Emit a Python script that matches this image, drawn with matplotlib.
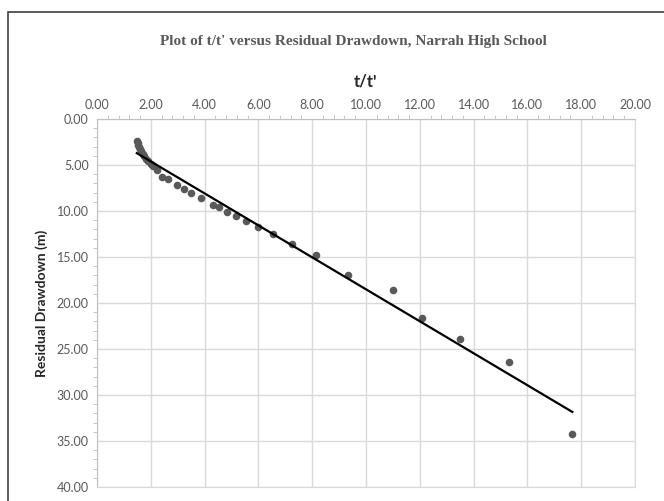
import numpy as np
import matplotlib

matplotlib.use("Agg")
import matplotlib.pyplot as plt  # noqa: E402
from matplotlib.patches import Rectangle  # noqa: E402
from matplotlib.ticker import MultipleLocator, FormatStrFormatter  # noqa: E402

# t/t' and residual drawdown (m)
T_RATIO = [1.48, 1.51, 1.54, 1.57, 1.61, 1.65, 1.70, 1.76, 1.83, 1.91, 2.00,
           2.10, 2.22, 2.43, 2.65, 2.99, 3.22, 3.49, 3.85, 4.32, 4.55, 4.84,
           5.16, 5.53, 6.00, 6.55, 7.26, 8.14, 9.34, 11.00, 12.10, 13.50,
           15.30, 17.67]
DRAWDOWN = [2.35, 2.60, 2.85, 3.05, 3.30, 3.50, 3.75, 4.00, 4.30, 4.60, 4.85,
            5.15, 5.50, 6.27, 6.56, 7.20, 7.60, 8.00, 8.55, 9.35, 9.60, 10.10,
            10.50, 11.10, 11.70, 12.50, 13.55, 14.80, 17.00, 18.60, 21.60,
            23.90, 26.40, 34.20]

TITLE = "Plot of t/t' versus Residual Drawdown, Narrah High School"
GREY = "#595959"
SANS = ["Lato", "DejaVu Sans"]

fig = plt.figure(figsize=(6.64, 5.01), dpi=100)
ax = fig.add_axes([97 / 664, 1 - 487 / 501, (635 - 97) / 664, (487 - 119) / 501])

x = np.array(T_RATIO)
y = np.array(DRAWDOWN)
ax.scatter(x, y, s=30, color=GREY, zorder=3, linewidths=0)

# linear trendline over the data range
slope, icpt = np.polyfit(x, y, 1)
xs = np.array([x.min(), x.max()])
ax.plot(xs, slope * xs + icpt, color="black", linewidth=1.6, zorder=4)

ax.set_xlim(0, 20)
ax.set_ylim(40, 0)
ax.xaxis.set_major_locator(MultipleLocator(2))
ax.xaxis.set_minor_locator(MultipleLocator(0.4))
ax.yaxis.set_major_locator(MultipleLocator(5))
ax.yaxis.set_minor_locator(MultipleLocator(1))
ax.xaxis.set_major_formatter(FormatStrFormatter("%.2f"))
ax.yaxis.set_major_formatter(FormatStrFormatter("%.2f"))
ax.xaxis.tick_top()
ax.xaxis.set_label_position("top")

ax.grid(True, which="major", color="#d9d9d9", linewidth=1)
ax.set_axisbelow(True)
for side, sp in ax.spines.items():
    if side in ("top", "left"):
        sp.set_color("#bfbfbf")
    else:
        sp.set_color("#d9d9d9")
ax.tick_params(which="major", length=0, labelsize=9, labelcolor=GREY, pad=6)
ax.tick_params(which="minor", length=3, color="#bfbfbf", direction="out")
for lab in ax.get_xticklabels() + ax.get_yticklabels():
    lab.set_family(SANS)

ax.set_xlabel("t/t'", fontsize=12, fontweight="bold", color="#262626",
              family=SANS, labelpad=9)
ax.set_ylabel("Residual Drawdown (m)", fontsize=10, fontweight="bold",
              color="#262626", family=SANS, labelpad=6)

fig.text(0.532, 1 - 42 / 501, TITLE, ha="center", va="center", fontsize=11,
         fontweight="bold", color=GREY, family=["Liberation Serif", "DejaVu Serif"])

# chart frame (cropped on right and bottom)
fig.add_artist(Rectangle((8 / 664, -0.1), 2, 1.1 - 12 / 501,
                         transform=fig.transFigure, fill=False,
                         edgecolor="#404040", linewidth=1.2))

fig.savefig("out.png", dpi=100)
